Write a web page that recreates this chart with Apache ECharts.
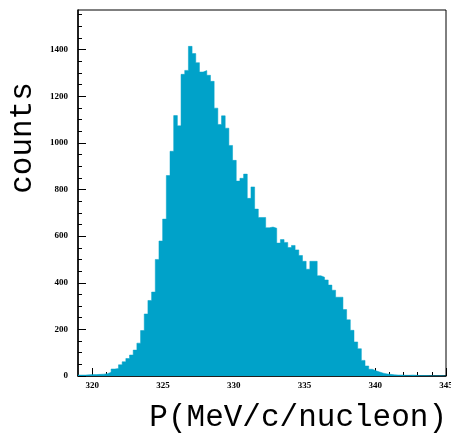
<!DOCTYPE html>
<html><head><meta charset="utf-8">
<script src="https://cdn.jsdelivr.net/npm/echarts@6/dist/echarts.min.js"></script>
<style>html,body{margin:0;padding:0;background:#fff}#c{width:451px;height:437px}</style>
</head><body><div id="c"></div>
<script>
// Histogram definition: 100 bins from 319 to 345
const xMin = 319;
const xMax = 345;
const binWidth = 0.26;
const counts = [
  4, 4, 5, 6, 6, 7, 8, 10, 16, 30,
  32, 48, 61, 75, 90, 111, 141, 195, 266, 324,
  360, 500, 579, 673, 860, 964, 1117, 1073, 1294, 1311,
  1414, 1383, 1344, 1304, 1310, 1290, 1264, 1149, 1079, 1116,
  1063, 989, 925, 836, 848, 866, 762, 811, 716, 680,
  680, 636, 639, 634, 570, 585, 573, 551, 560, 541,
  517, 492, 458, 492, 492, 430, 424, 412, 390, 368,
  338, 338, 285, 241, 196, 146, 117, 67, 43, 29,
  22, 17, 12, 9, 7, 5, 4, 4, 3, 3,
  4, 3, 2, 2, 2, 1, 1, 1, 1, 0
];
const xMajorTicks = [320, 325, 330, 335, 340, 345];
const xMinorTicks = [320,321,322,323,324,325,326,327,328,329,330,331,332,333,334,335,336,337,338,339,340,341,342,343,344,345];
const yMax = 1570;
const yMajorTicks = [0, 200, 400, 600, 800, 1000, 1200, 1400];
const yMinorTicks = [0,50,100,150,200,250,300,350,400,450,500,550,600,650,700,750,800,850,900,950,1000,1050,1100,1150,1200,1250,1300,1350,1400,1450,1500,1550];
const xTitle = 'P(MeV/c/nucleon)';
const yTitle = 'counts';

const fillColor = '#00a2c9';
const stepData = counts.map((c, i) => [xMin + i * binWidth, c]);
stepData.push([xMax, counts[counts.length - 1]]);

const labelFont = {fontFamily: 'Liberation Serif', fontWeight: 'bold', fontSize: 9, color: '#000', formatter: v => String(v)};

const chart = echarts.init(document.getElementById('c'), null, {renderer: 'canvas'});
chart.setOption({
  animation: false,
  backgroundColor: '#fff',
  grid: {left: 78, right: 5, top: 10, bottom: 61, show: true, borderColor: '#000', borderWidth: 1, backgroundColor: 'transparent', containLabel: false, outerBoundsMode: 'none'},
  xAxis: [
    {type: 'value', min: xMin, max: xMax, position: 'bottom',
     axisLine: {show: true, onZero: false, lineStyle: {color: '#000', width: 1.5}},
     axisTick: {show: true, inside: true, length: 4, customValues: xMinorTicks, lineStyle: {color: '#000', width: 1}},
     axisLabel: Object.assign({show: true, customValues: xMajorTicks, margin: 5, hideOverlap: false}, labelFont),
     splitLine: {show: false}},
    {type: 'value', min: xMin, max: xMax, position: 'bottom',
     axisLine: {show: false},
     axisTick: {show: true, inside: true, length: 8, customValues: xMajorTicks, lineStyle: {color: '#000', width: 1}},
     axisLabel: {show: false}, splitLine: {show: false}}
  ],
  yAxis: [
    {type: 'value', min: 0, max: yMax, position: 'left',
     axisLine: {show: true, onZero: false, lineStyle: {color: '#000', width: 1.5}},
     axisTick: {show: true, inside: true, length: 4, customValues: yMinorTicks, lineStyle: {color: '#000', width: 1}},
     axisLabel: Object.assign({show: true, customValues: yMajorTicks, margin: 10}, labelFont),
     splitLine: {show: false}},
    {type: 'value', min: 0, max: yMax, position: 'left',
     axisLine: {show: false},
     axisTick: {show: true, inside: true, length: 8, customValues: yMajorTicks, lineStyle: {color: '#000', width: 1}},
     axisLabel: {show: false}, splitLine: {show: false}}
  ],
  series: [{
    type: 'line', xAxisIndex: 0, yAxisIndex: 0,
    data: stepData, step: 'end', symbol: 'none',
    lineStyle: {width: 0.5, color: fillColor},
    areaStyle: {color: fillColor, opacity: 1, origin: 'start'},
    z: 1
  }],
  graphic: [
    {type: 'text', x: 447, y: 418, z: 10,
     style: {text: xTitle, font: '31px "Liberation Mono"', fill: '#000', align: 'right', verticalAlign: 'middle'}},
    {type: 'text', x: 23, y: 138, rotation: Math.PI / 2, z: 10,
     style: {text: yTitle, font: '31px "Liberation Mono"', fill: '#000', align: 'center', verticalAlign: 'middle'}}
  ]
});
</script>
</body></html>
